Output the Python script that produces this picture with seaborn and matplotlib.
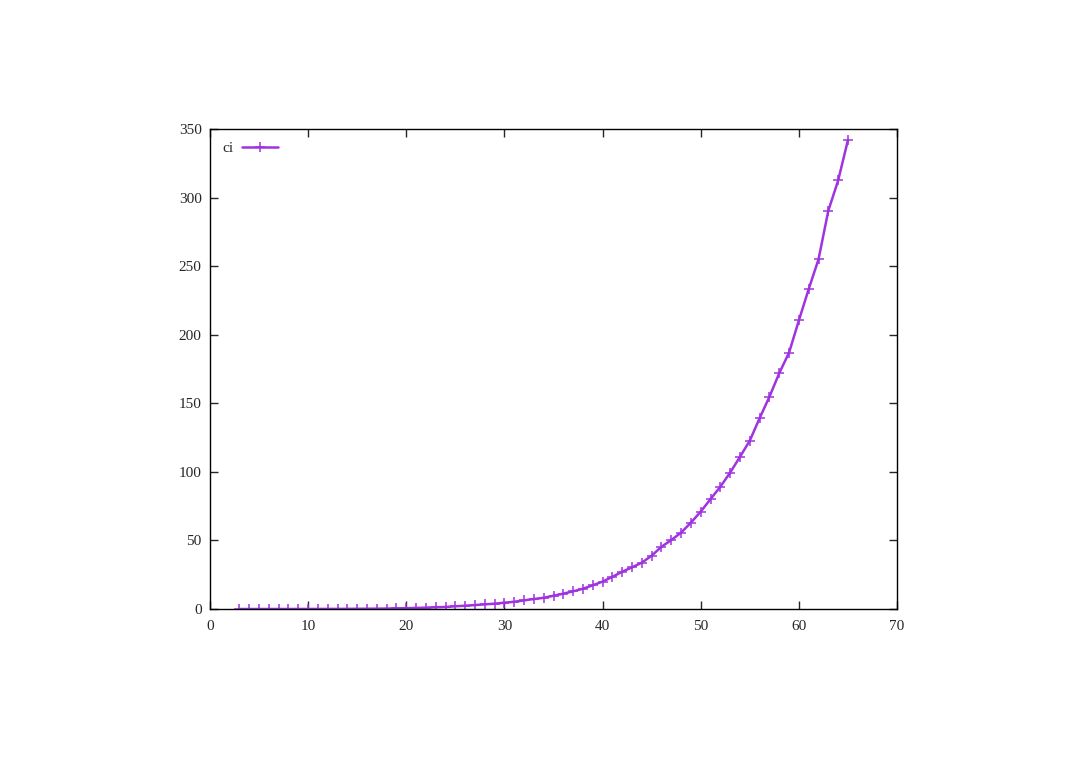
import seaborn as sns
import matplotlib.pyplot as plt
import pandas as pd

# values (x = 3 .. 65)
x_vals = list(range(3, 66))
ci_vals = [0.01, 0.01, 0.01, 0.02, 0.02, 0.03, 0.04, 0.05, 0.06, 0.08,   # 3-12
           0.10, 0.13, 0.17, 0.22, 0.28, 0.35, 0.45, 0.6, 0.8, 1.0,      # 13-22
           1.3, 1.5, 2.0, 2.4, 2.9, 3.4, 3.9, 4.6, 5.3, 6.3,             # 23-32
           7.3, 8.2, 9.7, 11.2, 12.9, 14.8, 17.3, 20.0, 23.5, 27.2,      # 33-42
           30.4, 33.8, 38.9, 45.4, 50.3, 55.7, 63.0, 71.0, 80.2, 89.2,   # 43-52
           99.5, 111.0, 122.8, 139.2, 154.8, 172.0, 187.0, 210.5, 233.3, 255.0,  # 53-62
           290.5, 312.5, 342.0]                                          # 63-65
x_ticks = [0, 10, 20, 30, 40, 50, 60, 70]
y_ticks = [0, 50, 100, 150, 200, 250, 300, 350]

df = pd.DataFrame({"x": x_vals, "ci": ci_vals})

sns.set_style("ticks")
plt.rcParams['font.family'] = ['Liberation Serif', 'DejaVu Serif']

fig = plt.figure(figsize=(10.8, 7.63), dpi=100)
ax = fig.add_axes([0.1944, 0.2018, 0.6362, 0.6291])

purple = "#a033e0"
sns.lineplot(data=df, x="x", y="ci", ax=ax, color=purple, linewidth=1.8,
             marker="+", markersize=7, markeredgewidth=1.1,
             markeredgecolor=purple, markerfacecolor=purple, label="ci")

ax.set_xlim(0, 70)
ax.set_ylim(0, 350)
ax.set_xticks(x_ticks)
ax.set_yticks(y_ticks)
ax.set_xlabel("")
ax.set_ylabel("")
ax.tick_params(direction="in", length=6, width=1, top=True, right=True,
               labelsize=11, pad=6)
ax.xaxis.set_tick_params(pad=8)
for s in ax.spines.values():
    s.set_visible(True)
    s.set_linewidth(1)
    s.set_color("black")

leg = ax.legend(loc="upper left", frameon=False, markerfirst=False,
                fontsize=11, handlelength=2.3, borderaxespad=0.3,
                borderpad=0.5, handletextpad=0.6)

plt.savefig("out.png", dpi=100)
